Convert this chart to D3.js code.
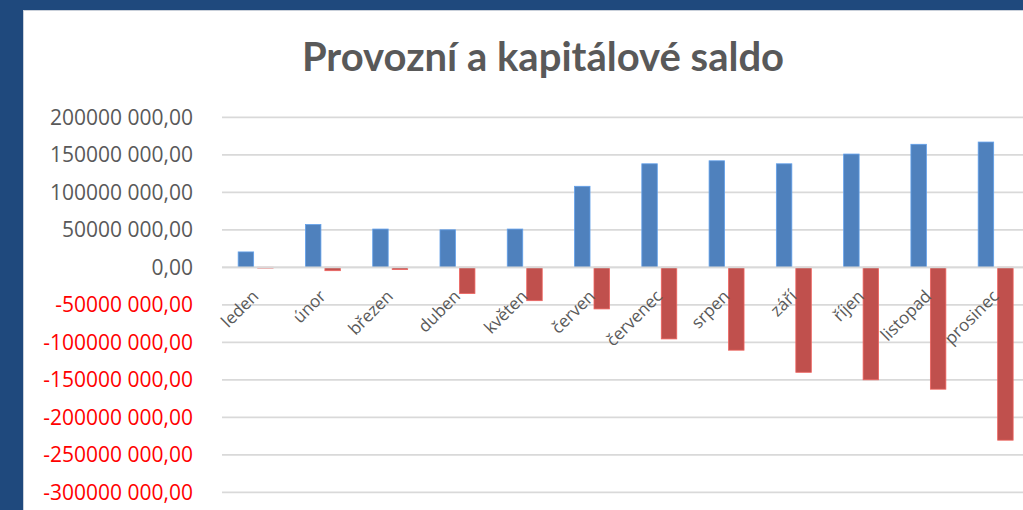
<!DOCTYPE html>
<html lang="cs">
<head>
<meta charset="UTF-8">
<title>Provozní a kapitálové saldo</title>
<script src="https://d3js.org/d3.v7.min.js"></script>
<style>
  html, body { margin: 0; padding: 0; background: #1f497d; }
  svg { display: block; }
</style>
</head>
<body>
<svg id="graf" width="1023" height="510"></svg>
<script>
// data (v Kč)
const mesice = ["leden", "únor", "březen", "duben", "květen", "červen",
                "červenec", "srpen", "září", "říjen", "listopad", "prosinec"];
const provozni = [20.5e6, 57e6, 51e6, 50e6, 51e6, 108e6, 138e6, 142e6, 138e6, 151e6, 164e6, 167e6];
const kapitalove = [-1e6, -4.5e6, -3e6, -35e6, -44.5e6, -55.5e6, -95.5e6, -110.5e6, -140e6, -150e6, -162.5e6, -230.5e6];
const osaHodnoty = [200e6, 150e6, 100e6, 50e6, 0, -50e6, -100e6, -150e6, -200e6, -250e6, -300e6];
const osaPopisky = ["200000 000,00", "150000 000,00", "100000 000,00", "50000 000,00", "0,00",
                    "-50000 000,00", "-100000 000,00", "-150000 000,00", "-200000 000,00",
                    "-250000 000,00", "-300000 000,00"];
const rady = ["provozni", "kapitalove"];
const barvy = { provozni: "#4f81bd", kapitalove: "#c0504d" };

const svg = d3.select("#graf");
const W = +svg.attr("width");
const H = +svg.attr("height");

// ramecek
svg.append("rect")
  .attr("x", 23.5).attr("y", 10.5)
  .attr("width", W).attr("height", H)
  .attr("fill", "#fff")
  .attr("stroke", "#c9d0da");

// titulek
svg.append("text")
  .attr("x", 543).attr("y", 71)
  .attr("text-anchor", "middle")
  .attr("font-family", "Lato, 'Open Sans', sans-serif")
  .attr("font-weight", "bold")
  .attr("font-size", 40)
  .attr("fill", "#595959")
  .text("Provozní a kapitálové saldo");

// skaly
const y = d3.scaleLinear().domain([-300e6, 200e6]).range([492.3, 117.3]);
const x0 = d3.scaleBand().domain(mesice).range([222, 1029.3]);
const x1 = d3.scaleBand().domain(rady).range([0, x0.bandwidth()])
  .paddingInner(0.205).paddingOuter(0.83);

// mrizka
svg.append("g").selectAll("line")
  .data(osaHodnoty)
  .join("line")
    .attr("x1", 222).attr("x2", W)
    .attr("y1", d => y(d)).attr("y2", d => y(d))
    .attr("stroke", "#d9d9d9")
    .attr("stroke-width", 1.8);

// osa Y
const osaY = svg.append("g")
  .attr("transform", "translate(193,0)")
  .call(d3.axisLeft(y).tickValues(osaHodnoty)
    .tickFormat((d, i) => osaPopisky[i]).tickSize(0).tickPadding(0));
osaY.select(".domain").remove();
osaY.selectAll("text")
  .attr("font-family", "'Open Sans', sans-serif")
  .attr("font-size", 21)
  .attr("fill", d => d < 0 ? "#ff0000" : "#595959");

// sloupce
const radky = mesice.map((m, i) => ({ mesic: m, provozni: provozni[i], kapitalove: kapitalove[i] }));
svg.append("g").selectAll("g")
  .data(radky)
  .join("g")
    .attr("transform", d => `translate(${x0(d.mesic)},0)`)
  .selectAll("rect")
  .data(d => rady.map(r => ({ rada: r, hodnota: d[r] })))
  .join("rect")
    .attr("x", d => x1(d.rada))
    .attr("width", x1.bandwidth())
    .attr("y", d => y(Math.max(0, d.hodnota)))
    .attr("height", d => Math.abs(y(d.hodnota) - y(0)))
    .attr("fill", d => barvy[d.rada])
    .attr("stroke", d => d3.color(barvy[d.rada]).brighter(0.6))
    .attr("stroke-width", 0.8);

// nulova osa
svg.append("line")
  .attr("x1", 222).attr("x2", W)
  .attr("y1", y(0)).attr("y2", y(0))
  .attr("stroke", "#d9d9d9")
  .attr("stroke-width", 1.8);

// popisky kategorii
svg.append("g").selectAll("text")
  .data(mesice)
  .join("text")
    .attr("transform", d => `translate(${x0(d) + x0.bandwidth() / 2 + 4},${y(0) + 30}) rotate(-45)`)
    .attr("text-anchor", "end")
    .attr("font-family", "'Open Sans', sans-serif")
    .attr("font-size", 17)
    .attr("fill", "#595959")
    .text(d => d);
</script>
</body>
</html>
